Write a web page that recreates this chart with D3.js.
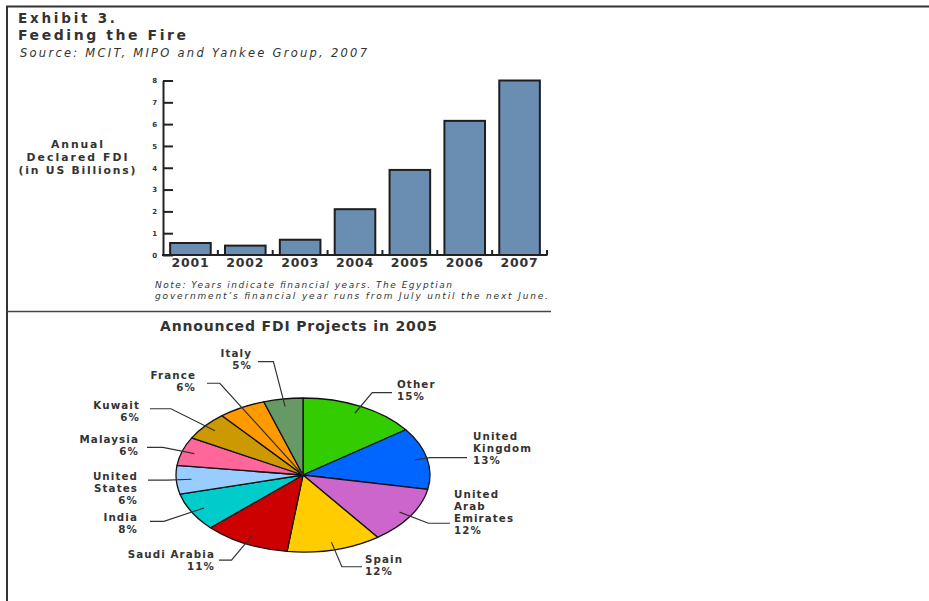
<!DOCTYPE html>
<html>
<head>
<meta charset="utf-8">
<script src="https://cdn.jsdelivr.net/npm/d3@7"></script>
<style>
  html, body { margin: 0; padding: 0; background: #fff; }
  svg { display: block; }
  text { fill: #333; font-family: "DejaVu Sans", sans-serif; }
</style>
</head>
<body>
<svg id="chart" width="929" height="601"></svg>
<script>
// ---- Data ----
const years = ["2001", "2002", "2003", "2004", "2005", "2006", "2007"];
const fdiBillions = [0.55, 0.43, 0.7, 2.1, 3.9, 6.15, 8.0];
const yTicks = [0, 1, 2, 3, 4, 5, 6, 7, 8];

const countries = ["Other", "United Kingdom", "United Arab Emirates", "Spain", "Saudi Arabia",
  "India", "United States", "Malaysia", "Kuwait", "France", "Italy"];
const shares = [15, 13, 12, 12, 11, 8, 6, 6, 6, 6, 5];
const sliceColors = ["#33cc00", "#0066ff", "#cc66cc", "#ffcc00", "#cc0000",
  "#00cccc", "#99ccff", "#ff6699", "#cc9900", "#ff9900", "#669966"];
const labelLines = [["Other"], ["United", "Kingdom"], ["United", "Arab", "Emirates"], ["Spain"],
  ["Saudi Arabia"], ["India"], ["United", "States"], ["Malaysia"], ["Kuwait"], ["France"], ["Italy"]];

// Label placement: text x, first baseline, anchor, leader end x, elbow radius, inner radius
const labelLayout = [
  { tx: 397, ty: 388, anchor: "start", lx: 392, er: 1.20, ir: 0.9 },
  { tx: 473, ty: 440, anchor: "start", lx: 467, er: 1.03, ir: 0.9 },
  { tx: 454, ty: 498, anchor: "start", lx: 450, er: 1.17, ir: 0.9 },
  { tx: 365, ty: 563, anchor: "start", lx: 362, er: 1.23, ir: 0.9 },
  { tx: 215, ty: 558, anchor: "end",   lx: 219, er: 1.24, ir: 0.88 },
  { tx: 138, ty: 521, anchor: "end",   lx: 150, er: 1.25, ir: 0.89 },
  { tx: 138, ty: 480, anchor: "end",   lx: 148, er: 1.07, ir: 0.88 },
  { tx: 139, ty: 443, anchor: "end",   lx: 147, er: 1.16, ir: 0.9 },
  { tx: 140, ty: 409, anchor: "end",   lx: 150, er: 1.35, ir: 0.9 },
  { tx: 196, ty: 379, anchor: "end",   lx: 207, er: 1.36, ir: 0.0 },
  { tx: 252, ty: 357, anchor: "end",   lx: 258, er: 1.49, ir: 0.9 }
];

const svg = d3.select("#chart");

// ---- Frame ----
svg.append("path")
  .attr("d", "M7,601V6.5H929")
  .attr("fill", "none").attr("stroke", "#333").attr("stroke-width", 2);

// ---- Headings ----
svg.append("text").attr("x", 18).attr("y", 23.3)
  .attr("font-size", 13.5).attr("font-weight", "bold")
  .attr("textLength", 97).attr("lengthAdjust", "spacing")
  .text("Exhibit 3.");
svg.append("text").attr("x", 18).attr("y", 40)
  .attr("font-size", 14).attr("font-weight", "bold")
  .attr("textLength", 168).attr("lengthAdjust", "spacing")
  .text("Feeding the Fire");
svg.append("text").attr("x", 20).attr("y", 56.5)
  .attr("font-size", 11.5).attr("font-style", "italic")
  .attr("textLength", 347).attr("lengthAdjust", "spacing")
  .text("Source: MCIT, MIPO and Yankee Group, 2007");

// ---- Bar chart ----
const x = d3.scaleBand().domain(years).range([163, 547]).paddingInner(0.26).paddingOuter(0.13);
const y = d3.scaleLinear().domain([0, 8]).range([255, 80.5]);

const yAxis = d3.axisLeft(y).tickValues(yTicks).tickSize(-10).tickSizeOuter(0).tickPadding(6);
const gy = svg.append("g").attr("transform", "translate(163,0)").call(yAxis);
gy.select(".domain").attr("stroke", "#222").attr("stroke-width", 2);
gy.selectAll(".tick line").attr("stroke", "#222").attr("stroke-width", 2);
gy.selectAll(".tick text").attr("font-size", 7).attr("font-weight", "bold")
  .attr("fill", "#333").attr("font-family", "DejaVu Sans, sans-serif");

svg.append("g").selectAll("rect")
  .data(years.map((yr, i) => ({ yr, v: fdiBillions[i] })))
  .join("rect")
  .attr("x", d => x(d.yr))
  .attr("y", d => y(d.v))
  .attr("width", x.bandwidth())
  .attr("height", d => y(0) - y(d.v))
  .attr("fill", "#6a8db2")
  .attr("stroke", "#1e1e1e")
  .attr("stroke-width", 2);

// baseline with small separators between years
svg.append("line")
  .attr("x1", 162).attr("x2", 547.5).attr("y1", y(0)).attr("y2", y(0))
  .attr("stroke", "#222").attr("stroke-width", 2);
svg.append("g").selectAll("line")
  .data(years)
  .join("line")
  .attr("x1", (d, i) => x.range()[0] + x.step() * (i + 1))
  .attr("x2", (d, i) => x.range()[0] + x.step() * (i + 1))
  .attr("y1", y(0)).attr("y2", y(0) - 5)
  .attr("stroke", "#222").attr("stroke-width", 2);

svg.append("g").selectAll("text")
  .data(years)
  .join("text")
  .attr("x", d => x(d) + x.bandwidth() / 2)
  .attr("y", 267)
  .attr("text-anchor", "middle")
  .attr("font-size", 12.5).attr("font-weight", "bold")
  .attr("letter-spacing", 0.8)
  .text(d => d);

// y-axis title
const yTitle = ["Annual", "Declared FDI", "(in US Billions)"];
const yTitleW = [52, 101, 117];
svg.append("g").selectAll("text")
  .data(yTitle)
  .join("text")
  .attr("x", (d, i) => 77 - yTitleW[i] / 2)
  .attr("y", (d, i) => 148.3 + i * 13)
  .attr("font-size", 10.8).attr("font-weight", "bold")
  .attr("textLength", (d, i) => yTitleW[i]).attr("lengthAdjust", "spacing")
  .text(d => d);

// note
const note = ["Note: Years indicate financial years. The Egyptian",
  "government\u2019s financial year runs from July until the next June."];
const noteW = [297, 393];
svg.append("g").selectAll("text")
  .data(note)
  .join("text")
  .attr("x", 155)
  .attr("y", (d, i) => 288 + i * 10.5)
  .attr("font-size", 9).attr("font-style", "italic")
  .attr("textLength", (d, i) => noteW[i]).attr("lengthAdjust", "spacing")
  .text(d => d);

// separator
svg.append("line")
  .attr("x1", 7).attr("x2", 551).attr("y1", 311.5).attr("y2", 311.5)
  .attr("stroke", "#444").attr("stroke-width", 1.5);

// ---- Pie chart ----
svg.append("text").attr("x", 160).attr("y", 331)
  .attr("font-size", 14).attr("font-weight", "bold")
  .attr("textLength", 277).attr("lengthAdjust", "spacing")
  .text("Announced FDI Projects in 2005");

const cx = 303, cy = 475, rx = 127, ry = 77;
const R = 100;
const pie = d3.pie().sort(null).value(d => d.v);
const slices = pie(countries.map((c, i) => ({ c, v: shares[i], i })));
const arc = d3.arc().innerRadius(0).outerRadius(R);

svg.append("g")
  .attr("transform", `translate(${cx},${cy}) scale(${rx / R},${ry / R})`)
  .selectAll("path")
  .data(slices)
  .join("path")
  .attr("d", arc)
  .attr("fill", d => sliceColors[d.data.i])
  .attr("stroke", "#111")
  .attr("stroke-width", 1.3)
  .attr("stroke-linejoin", "round")
  .attr("vector-effect", "non-scaling-stroke");

// point on the ellipse along a slice's middle angle
function ellipsePt(a, r) {
  return [cx + Math.sin(a) * rx * r, cy - Math.cos(a) * ry * r];
}

const labels = svg.append("g");
slices.forEach((s, i) => {
  const L = labelLayout[i];
  const mid = (s.startAngle + s.endAngle) / 2;
  const inner = ellipsePt(mid, L.ir);
  const elbow = ellipsePt(mid, L.er);
  labels.append("polyline")
    .attr("points", [inner, elbow, [L.lx, elbow[1]]].map(p => p.join(",")).join(" "))
    .attr("fill", "none").attr("stroke", "#333").attr("stroke-width", 1.2);
  const lines = labelLines[i].concat([shares[i] + "%"]);
  lines.forEach((ln, k) => {
    labels.append("text")
      .attr("text-anchor", L.anchor)
      .attr("x", L.tx).attr("y", L.ty + k * 12)
      .attr("font-size", 10.3).attr("font-weight", "bold")
      .attr("letter-spacing", 1.1)
      .text(ln);
  });
});
</script>
</body>
</html>
